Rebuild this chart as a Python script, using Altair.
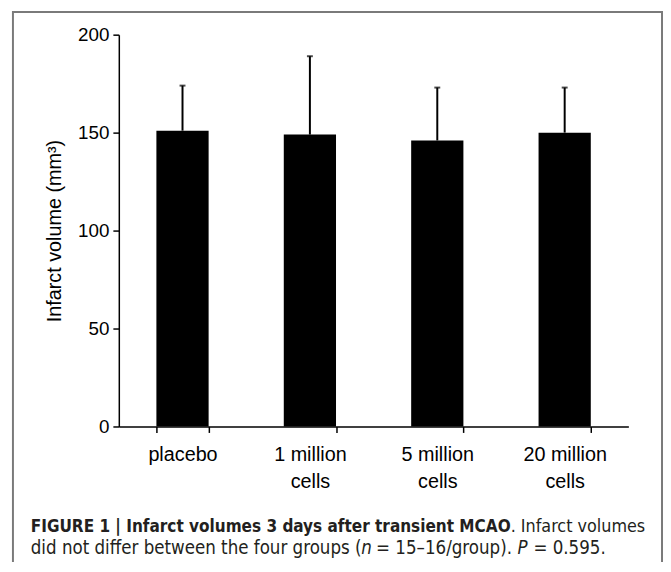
import altair as alt
import pandas as pd

# ---- data ----
groups = ["placebo", "1 million cells", "5 million cells", "20 million cells"]
means = [151, 149, 146, 150]
sds = [23, 40, 27, 23]
y_ticks = [0, 50, 100, 150, 200]
y_title = "Infarct volume (mm³)"

cap1_bold = "FIGURE 1 | Infarct volumes 3 days after transient MCAO"
cap1_reg = ". Infarct volumes"
cap2_a = "did not differ between the four groups ("
cap2_n = "n"
cap2_b = "= 15–16/group)."
cap2_p = "P"
cap2_c = "= 0.595."

df = pd.DataFrame({
    "group": groups,
    "mean": means,
    "upper": [m + s for m, s in zip(means, sds)],
})

W, H = 515, 396
FONT = "Liberation Sans"
CAPFONT = "Liberation Sans Narrow, DejaVu Sans Condensed, Roboto Condensed, Liberation Sans"

x_enc = alt.X(
    "group:N",
    sort=groups,
    scale=alt.Scale(paddingInner=0.59, paddingOuter=0.295),
    axis=alt.Axis(
        title=None,
        labelAngle=0,
        grid=False,
        tickBand="extent",
        labelExpr="isValid(datum.value) ? split(replace(datum.value, ' cells', '|cells'), '|') : ''",
        labelFont=FONT,
        labelFontSize=20,
        labelColor="black",
        labelBaseline="top",
        labelLineHeight=28,
        labelPadding=12,
        domainColor="black",
        domainWidth=1.5,
        tickColor="black",
        tickWidth=1.5,
        tickSize=6,
    ),
)
y_scale = alt.Scale(domain=[0, 200], nice=False)

base = alt.Chart(df)

bars = base.mark_bar(color="black").encode(
    x=x_enc,
    y=alt.Y(
        "mean:Q",
        scale=y_scale,
        axis=alt.Axis(
            title=y_title,
            values=y_ticks,
            grid=False,
            labelFont=FONT,
            labelFontSize=19,
            labelColor="black",
            labelPadding=4,
            titleFont=FONT,
            titleFontSize=20,
            titleFontWeight="normal",
            titleColor="black",
            titlePadding=13,
            domainColor="black",
            domainWidth=1.5,
            tickColor="black",
            tickWidth=1.5,
            tickSize=6,
        ),
    ),
)

err = base.mark_rule(color="black", strokeWidth=2).encode(
    x=alt.X("group:N", sort=groups),
    y=alt.Y("mean:Q", scale=y_scale),
    y2="upper:Q",
)

caps = base.mark_tick(color="black", size=6, thickness=2).encode(
    x=alt.X("group:N", sort=groups),
    y=alt.Y("upper:Q", scale=y_scale),
)

one = pd.DataFrame({"a": [0]})

frame = alt.Chart(one).mark_rect(filled=False, stroke="#7a7a7a", strokeWidth=2).encode(
    x=alt.value(-107), x2=alt.value(549), y=alt.value(-23), y2=alt.value(700)
)


def txt(s, x, y, size, weight="normal", style="normal", align="left"):
    return alt.Chart(one).mark_text(
        font=CAPFONT, fontSize=size, fontWeight=weight, fontStyle=style,
        align=align, baseline="alphabetic", color="#231f20"
    ).encode(x=alt.value(x), y=alt.value(y), text=alt.value(s))


L2 = 18.75
captions = [
    txt(cap1_bold, -89, 503, 17.2, weight="bold"),
    txt(cap1_reg, 532, 503, 18, align="right"),
    txt(cap2_a, -89, 525, L2),
    txt(cap2_n, 245, 525, L2, style="italic"),
    txt(cap2_b, 260, 525, L2),
    txt(cap2_p, 403, 525, L2, style="italic"),
    txt(cap2_c, 419, 525, L2),
]

chart = alt.layer(frame, bars, err, caps, *captions).properties(
    width=W,
    height=H,
    autosize=alt.AutoSizeParams(type="none"),
    padding={"left": 112, "top": 24, "right": 35, "bottom": 134},
).configure(background="white").configure_view(stroke=None)

chart.save("out.html", embed_options={"renderer": "svg", "actions": False})
